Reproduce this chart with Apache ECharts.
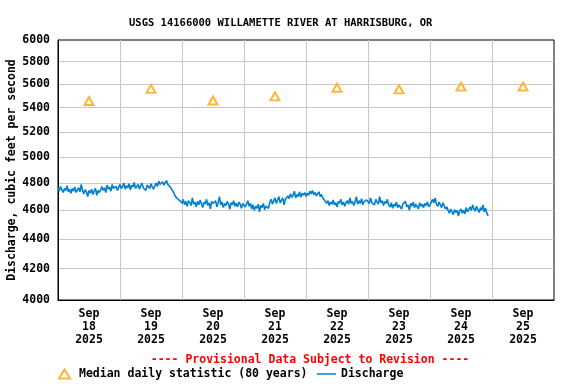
<!DOCTYPE html>
<html><head><meta charset="utf-8">
<script src="https://cdn.jsdelivr.net/npm/echarts@6/dist/echarts.min.js"></script>
<style>html,body{margin:0;padding:0;background:#fff}#c{width:576px;height:384px}</style>
</head><body><div id="c"></div>
<script>
// Discharge, half-hourly readings (cfs), each day starting at 00:00
var day18 = [4765,4740,4775,4750,4730,4760,4745,4780,4735,4755,4725,4760,4740,4770,4730,4750,4765,4735,4790,4745,
             4720,4750,4735,4700,4745,4725,4755,4715,4740,4760,4710,4745,4730,4750,
             4775,4745,4765,4730,4785,4755,4770,4740,4790,4760,4750,4775,4745,4770];
var day19 = [4790,4760,4775,4800,4755,4780,4765,4795,4750,4785,4770,4805,4760,4775,4790,4755,4780,4800,4765,4770,4745,4785,4775,4760,4795,4770,4755,4780,
             4800,4775,4815,4790,4780,4810,4785,4795,4820,4790,
             4795,4770,4780,4740,4735,4700,4705,4680,4690,4665];
var day20 = [4650,4680,4640,4665,4630,4670,4655,4635,4690,4645,4660,4625,4665,4640,4675,4650,4620,4660,4645,4680,4635,4655,4610,4665,
             4650,4640,4670,4625,4655,4700,4640,4660,4620,4650,4635,4665,4645,4610,4655,4640,4670,4630,4650,4625,4660,4645,4615,4650];
var day21 = [4655,4625,4645,4670,4630,4650,
             4610,4640,4600,4630,4615,4645,4590,4635,4620,4650,4605,4630,4640,4615,
             4660,4680,4645,4670,4690,4650,4675,4700,4655,4665,4690,4640,4680,4670,
             4705,4685,4720,4695,4710,4740,4690,4715,4700,4735,4695,4725,4710,4730];
var day22 = [4700,4725,4710,4740,4720,4745,4715,4730,4705,4720,4735,4700,4715,4690,
             4680,4665,
             4650,4670,4635,4660,4645,4675,4640,4655,4625,4665,4650,4680,4640,4660,4630,4655,4670,4645,4690,4650,4665,4635,4660,4700,4645,4670,4650,4685,4640,4665,4655,4675];
var day23 = [4675,4650,4690,4655,4665,4640,4680,4660,4645,4700,4655,4670,4635,4665,4650,4680,
             4640,4625,4655,4615,4645,4630,4660,4620,4640,4650,4610,4645,4635,4665,4625,4640,4600,4650,4630,4660,4620,4645,4635,4610,4655,4630,4645,4620,4650,4635,4660,4625];
var day24 = [4640,4660,4680,4655,4690,4645,4630,4660,4640,4620,4655,4635,4610,4625,
             4600,4580,4610,4590,4570,4605,4585,4600,4560,4595,4610,4580,4600,4575,4620,4590,4605,
             4625,4600,4640,4610,4595,4630,4605,4585,4620,4600,4640,4590,4615,4580,4560];
// Median daily statistic (80 years), one per day Sep 18..25
var medianDays = [18,19,20,21,22,23,24,25];
var medianValues = [5455,5560,5460,5495,5570,5555,5580,5580];
// Axis ticks
var yTicks = [4000,4200,4400,4600,4800,5000,5200,5400,5600,5800,6000];
var xDays = [18,19,20,21,22,23,24,25,26];

var STEP = 1800000;
var t0 = Date.UTC(2025,8,18);
var discharge = [];
[day18,day19,day20,day21,day22,day23,day24].forEach(function(arr,d){
  arr.forEach(function(v,i){ discharge.push([t0 + d*86400000 + i*STEP, v]); });
});
var median = medianDays.map(function(d,i){ return [Date.UTC(2025,8,d,12), medianValues[i]]; });
var midnights = xDays.map(function(d){ return Date.UTC(2025,8,d); });
var noons = medianDays.map(function(d){ return Date.UTC(2025,8,d,12); });

var F = 'DejaVu Sans Mono';
var chart = echarts.init(document.getElementById('c'));
chart.setOption({
  animation: false,
  backgroundColor: '#fff',
  title: [{
    text: 'USGS 14166000 WILLAMETTE RIVER AT HARRISBURG, OR',
    left: 124, top: 13,
    textStyle: {fontFamily: F, fontSize: 10.5, fontWeight: 'bold', color: '#000'}
  },{
    text: '---- Provisional Data Subject to Revision ----',
    left: 305, top: 349, textAlign: 'center',
    textStyle: {fontFamily: F, fontSize: 11.5, fontWeight: 'bold', color: '#ff0000'}
  }],
  legend: [{
    data: [{name: 'Median daily statistic (80 years)', icon: 'emptyTriangle'}],
    left: 53, top: 363, itemWidth: 11, itemHeight: 9,
    textStyle: {fontFamily: F, fontSize: 11.5, fontWeight: 'bold', color: '#000', padding: [0,0,0,4]}
  },{
    data: [{name: 'Discharge', icon: 'rect'}],
    left: 312, top: 363, itemWidth: 19, itemHeight: 1.5,
    textStyle: {fontFamily: F, fontSize: 11.5, fontWeight: 'bold', color: '#000'}
  }],
  grid: {left: 58, right: 22, top: 40, bottom: 84, outerBoundsMode: 'none', containLabel: false,
         show: true, borderColor: '#000', borderWidth: 1, backgroundColor: '#fff'},
  xAxis: {
    type: 'value',
    min: midnights[0], max: midnights[midnights.length-1],
    axisLine: {show: true, lineStyle: {color: '#000', width: 1}},
    axisTick: {show: false, customValues: midnights},
    splitLine: {show: true, showMinLine: false, showMaxLine: false, lineStyle: {color: '#c8c8c8', width: 1}},
    axisLabel: {
      customValues: noons, margin: 8, hideOverlap: false,
      fontFamily: F, fontSize: 11.5, fontWeight: 'bold', color: '#000', lineHeight: 13, align: 'center',
      formatter: function(v){ var d = new Date(v); return 'Sep\n' + d.getUTCDate() + '\n2025'; }
    }
  },
  yAxis: {
    type: 'log', logBase: 10, min: 4000, max: 6000,
    name: 'Discharge, cubic feet per second', nameLocation: 'middle', nameGap: 40, nameMoveOverlap: false,
    nameTextStyle: {fontFamily: F, fontSize: 11.5, fontWeight: 'bold', color: '#000'},
    axisLine: {show: true, lineStyle: {color: '#000', width: 1}},
    axisTick: {show: false, customValues: yTicks},
    splitLine: {show: true, showMinLine: false, showMaxLine: false, lineStyle: {color: '#c8c8c8', width: 1}},
    axisLabel: {
      customValues: yTicks, margin: 8,
      fontFamily: F, fontSize: 11.5, fontWeight: 'bold', color: '#000',
      formatter: function(v){ return String(Math.round(v)); }
    }
  },
  series: [{
    name: 'Median daily statistic (80 years)',
    type: 'scatter', data: median,
    symbol: 'emptyTriangle', symbolSize: [9, 8],
    itemStyle: {color: '#ffa500', borderColor: '#ffa500', borderWidth: 1},
    z: 5
  },{
    name: 'Discharge',
    type: 'line', data: discharge,
    symbol: 'none', showSymbol: false,
    lineStyle: {color: '#0080d0', width: 1.6},
    itemStyle: {color: '#0080d0'}
  }]
});
</script></body></html>
